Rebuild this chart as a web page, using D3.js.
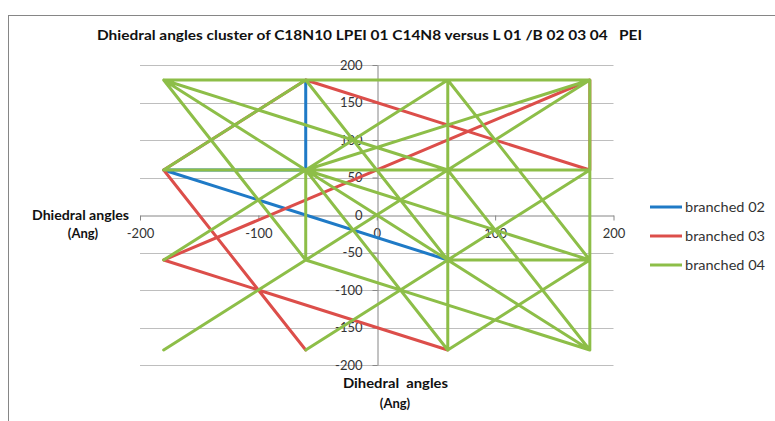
<!DOCTYPE html>
<html><head><meta charset="utf-8">
<script src="https://cdn.jsdelivr.net/npm/d3@7/dist/d3.min.js"></script>
<style>
html,body{margin:0;padding:0;background:#fff;}
svg{display:block;}
text{font-family:Lato,"Open Sans",sans-serif;}
</style></head>
<body>
<script>
// ---- data ----
const title = "Dhiedral angles cluster of C18N10 LPEI 01 C14N8 versus L 01 /B 02 03 04   PEI";
const xTicks = [-200, -100, 0, 100, 200];
const yTicks = [-200, -150, -100, -50, 0, 50, 100, 150, 200];
const seriesNames = ["branched 02", "branched 03", "branched 04"];
const seriesColors = ["#1F7AC6", "#DC4E4A", "#8DBE48"];
// null = gap between line pieces
const b02x = [-60, -60, -180, 60];
const b02y = [180, 60, 60, -60];
const b03x = [-60, -180, -60, 180, 180, -180, 60];
const b03y = [-180, 60, 180, 60, 180, -60, -180];
const b04x = [-60, -180, 180, -60, null,
              -180, 180, -180, 60, 180, -180, -60, 180, 180, 180, -60, -60, null,
              -180, 60, 180, -60, 60, 180, 60, null,
              60, 60, null,
              -60, 60];
const b04y = [180, 60, 60, -180, null,
              -180, 180, 180, 60, -180, 180, -60, -180, 180, 180, 60, -60, null,
              -60, 180, -60, 60, -180, -60, -60, null,
              180, -180, null,
              180, -60];

const W = 775, H = 421;
const svg = d3.select("body").append("svg").attr("width", W).attr("height", H);

// chart border
svg.append("rect").attr("x", 8.5).attr("y", 15.5).attr("width", 900).attr("height", 600)
  .attr("fill", "none").attr("stroke", "#868686").attr("stroke-width", 1);

svg.append("text").attr("x", 97).attr("y", 40).attr("font-size", 14).attr("font-weight", "bold")
  .attr("fill", "#111").attr("textLength", 545).attr("lengthAdjust", "spacingAndGlyphs")
  .style("white-space", "pre").text(title);

const x = d3.scaleLinear().domain([-200, 200]).range([140, 613.5]);
const y = d3.scaleLinear().domain([-200, 200]).range([365, 65]);

// gridlines
svg.append("g").selectAll("line").data(yTicks.filter(v => v !== 0)).join("line")
  .attr("x1", x(-200)).attr("x2", x(200))
  .attr("y1", d => Math.round(y(d)) + 0.5).attr("y2", d => Math.round(y(d)) + 0.5)
  .attr("stroke", "#BEBEBE").attr("stroke-width", 1);

// axes
const fmt = d => String(d);
const xAxis = svg.append("g").attr("transform", `translate(0,${Math.round(y(0)) + 0.5})`)
  .call(d3.axisBottom(x).tickValues(xTicks).tickFormat(fmt).tickSize(5).tickSizeOuter(0).tickPadding(8));
const yAxis = svg.append("g").attr("transform", `translate(${Math.round(x(0)) + 0.5},0)`)
  .call(d3.axisLeft(y).tickValues(yTicks).tickFormat(fmt).tickSize(5).tickSizeOuter(0).tickPadding(10));
[xAxis, yAxis].forEach(g => {
  g.selectAll("path,line").attr("stroke", "#868686");
  g.selectAll("text").attr("font-size", 13).attr("fill", "#333").style("font-family", "Lato,'Open Sans',sans-serif");
});

// axis titles
const yt = svg.append("text").attr("font-size", 13).attr("font-weight", "bold").attr("fill", "#111");
yt.append("tspan").attr("x", 32).attr("y", 220).attr("textLength", 97).attr("lengthAdjust", "spacingAndGlyphs").text("Dhiedral angles");
yt.append("tspan").attr("x", 83).attr("y", 238).attr("text-anchor", "middle").text("(Ang)");
const xt = svg.append("text").attr("font-size", 13).attr("font-weight", "bold").attr("fill", "#111");
xt.append("tspan").attr("x", 343).attr("y", 388).attr("textLength", 105).attr("lengthAdjust", "spacingAndGlyphs").style("white-space", "pre").text("Dihedral  angles");
xt.append("tspan").attr("x", 395).attr("y", 408).attr("text-anchor", "middle").text("(Ang)");

// series
const line = d3.line().defined(d => d[0] !== null && d[1] !== null).x(d => x(d[0])).y(d => y(d[1]));
const series = [[b02x, b02y], [b03x, b03y], [b04x, b04y]];
series.forEach(([xs, ys], i) => {
  const pts = xs.map((v, k) => [v, ys[k]]);
  svg.append("path").datum(pts).attr("d", line).attr("fill", "none")
    .attr("stroke", seriesColors[i]).attr("stroke-width", 3)
    .attr("stroke-linejoin", "round").attr("stroke-linecap", "round");
});

// legend
const legY = [207, 236, 265];
seriesNames.forEach((n, i) => {
  svg.append("line").attr("x1", 650).attr("x2", 682).attr("y1", legY[i]).attr("y2", legY[i])
    .attr("stroke", seriesColors[i]).attr("stroke-width", 3);
  svg.append("text").attr("x", 685).attr("y", legY[i] + 4.5).attr("font-size", 13)
    .attr("fill", "#333").attr("textLength", 80).attr("lengthAdjust", "spacingAndGlyphs").text(n);
});
</script>
</body></html>
